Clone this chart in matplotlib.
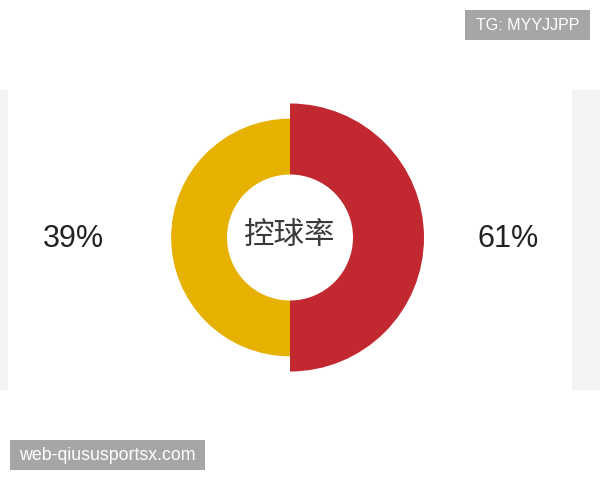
import matplotlib
matplotlib.use("Agg")
import matplotlib.pyplot as plt
from matplotlib.patches import Wedge, Rectangle

# ---- data ----
categories = ["主队", "客队"]
values = [61, 39]            # possession %
labels = ["61%", "39%"]
colors = ["#c1282f", "#e6b101"]
title = "控球率"
wm_top = "TG: MYYJJPP"
wm_bottom = "web-qiususportsx.com"

plt.rcParams['font.family'] = ['Noto Sans CJK SC', 'DejaVu Sans']

fig = plt.figure(figsize=(6, 4.8), dpi=100)
ax = fig.add_axes([0, 0, 1, 1])
ax.set_xlim(0, 600)
ax.set_ylim(480, 0)
ax.set_aspect('equal')
ax.axis('off')

# side panels
ax.add_patch(Rectangle((0, 90), 8, 300, color="#f3f4f6", lw=0))
ax.add_patch(Rectangle((572, 90), 28, 300, color="#f3f4f6", lw=0))

cx, cy = 290, 237.5
r_in = 63
r_max = 134
base = 92.0
vmax = max(values)
n = len(values)
step = 360.0 / n
for i, (v, c) in enumerate(zip(values, colors)):
    r = base + (r_max - base) * v / vmax
    t1 = -90 + i * step
    t2 = t1 + step
    ax.add_patch(Wedge((cx, cy), r, t1, t2, width=r - r_in, facecolor=c, edgecolor='none'))

ax.text(cx, cy - 2, title, ha='center', va='center', fontsize=22, color="#3a3a3a",
        family=['Noto Sans CJK SC', 'DejaVu Sans'])

ax.text(508, 239, labels[0], ha='center', va='center', fontsize=22, color="#222222",
        family=['Liberation Sans', 'DejaVu Sans'])
ax.text(73, 239, labels[1], ha='center', va='center', fontsize=22, color="#222222",
        family=['Liberation Sans', 'DejaVu Sans'])

# watermarks
ax.add_patch(Rectangle((465, 10), 125, 30, color="#a6a6a6", lw=0))
ax.text(527.5, 25.5, wm_top, ha='center', va='center', fontsize=11.5, color="white",
        family=['Liberation Sans', 'DejaVu Sans'])
ax.add_patch(Rectangle((10, 440), 195, 30, color="#a6a6a6", lw=0))
ax.text(107, 455.5, wm_bottom, ha='center', va='center', fontsize=12.8, color="white",
        family=['Liberation Sans', 'DejaVu Sans'])

fig.savefig("out.png", dpi=100, facecolor="white")
